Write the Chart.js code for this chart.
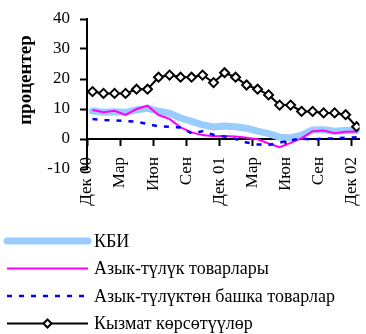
<!DOCTYPE html>
<html>
<head>
<meta charset="utf-8">
<script src="https://cdn.jsdelivr.net/npm/chart.js@4/dist/chart.umd.min.js"></script>
<style>
  html, body { margin: 0; padding: 0; overflow: hidden; background: #fff; }
  #wrap { position: relative; width: 366px; height: 334px; }
</style>
</head>
<body>
<div id="wrap"><canvas id="c" width="366" height="334"></canvas></div>
<script>
// Months, Dec 2000 .. Dec 2002
const months = ['Дек 00', 'Янв 01', 'Фев 01', 'Мар 01', 'Апр 01', 'Май 01', 'Июн 01', 'Июл 01', 'Авг 01',
  'Сен 01', 'Окт 01', 'Ноя 01', 'Дек 01', 'Янв 02', 'Фев 02', 'Мар 02', 'Апр 02', 'Май 02', 'Июн 02',
  'Июл 02', 'Авг 02', 'Сен 02', 'Окт 02', 'Ноя 02', 'Дек 02'];

// Axis labels shown every third month
const tickLabels = ['Дек 00', 'Мар', 'Июн', 'Сен', 'Дек 01', 'Мар', 'Июн', 'Сен', 'Дек 02'];

// Year-on-year change, percent
const cpi      = [9.3, 8.9, 9.1, 8.9, 9.7, 10.2, 9.3, 8.6, 7.0, 5.9, 4.7, 4.0, 4.3, 4.1, 3.6, 2.6, 1.8, 0.6, 0.4, 1.3, 3.0, 3.1, 2.6, 2.8, 2.8];
const food     = [9.7, 8.9, 9.4, 8.0, 10.0, 11.1, 8.0, 6.7, 3.9, 2.2, 1.3, 0.9, 1.0, 0.8, 0.4, -0.1, -1.5, -2.7, -1.3, 0.3, 2.6, 2.8, 1.9, 2.4, 2.5];
const nonFood  = [6.7, 6.3, 6.2, 6.0, 5.8, 5.0, 4.2, 4.1, 3.8, 1.9, 2.6, 1.4, 0.8, 0.0, -1.2, -1.8, -2.0, -1.2, -0.4, 0.2, -0.2, 0.2, 0.2, 0.4, 0.6];
const services = [15.8, 15.2, 15.2, 15.2, 16.6, 16.6, 20.6, 21.3, 20.6, 20.6, 21.3, 18.8, 22.1, 20.6, 18.0, 16.6, 14.7, 11.3, 11.3, 9.2, 9.2, 8.7, 8.7, 8.1, 4.1];

const seriesNames = ['КБИ', 'Азык-түлүк товарлары', 'Азык-түлүктөн башка товарлар', 'Кызмат көрсөтүүлөр'];
const yTitle = 'процентер';

const FONT = 'Liberation Serif, Times New Roman, serif';
const toPoints = arr => arr.map((v, i) => ({ x: i, y: v }));

// Y-axis title
const yTitlePlugin = {
  id: 'yTitle',
  afterDraw(chart) {
    const ctx = chart.ctx;
    ctx.save();
    ctx.translate(26, 80);
    ctx.rotate(-Math.PI / 2);
    ctx.font = 'bold 19px ' + FONT;
    ctx.fillStyle = '#000';
    ctx.textAlign = 'center';
    ctx.textBaseline = 'middle';
    ctx.fillText(yTitle, 0, 0);
    ctx.restore();
  }
};

// Legend stacked under the plot, one row per series
const legendPlugin = {
  id: 'stackLegend',
  afterDraw(chart) {
    const ctx = chart.ctx;
    const x0 = 7, x1 = 88, textX = 94, rowY0 = 241, gap = 27.5;
    chart.data.datasets.forEach((ds, i) => {
      const y = rowY0 + gap * i;
      ctx.save();
      ctx.strokeStyle = ds.borderColor;
      ctx.lineWidth = ds.borderWidth;
      ctx.lineCap = ds.borderCapStyle || 'butt';
      ctx.setLineDash(ds.borderDash || []);
      ctx.beginPath();
      ctx.moveTo(x0, y);
      ctx.lineTo(x1, y);
      ctx.stroke();
      ctx.setLineDash([]);
      if (ds.pointStyle === 'rectRot' && ds.pointRadius > 0) {
        const r = 4, cx = (x0 + x1) / 2;
        ctx.fillStyle = ds.pointBackgroundColor;
        ctx.strokeStyle = ds.pointBorderColor;
        ctx.lineWidth = ds.pointBorderWidth;
        ctx.beginPath();
        ctx.moveTo(cx - r, y); ctx.lineTo(cx, y - r); ctx.lineTo(cx + r, y); ctx.lineTo(cx, y + r);
        ctx.closePath();
        ctx.fill();
        ctx.stroke();
      }
      ctx.fillStyle = '#000';
      ctx.font = '18px ' + FONT;
      ctx.textAlign = 'left';
      ctx.textBaseline = 'middle';
      ctx.fillText(ds.label, textX, y + 1);
      ctx.restore();
    });
  }
};

new Chart(document.getElementById('c'), {
  type: 'line',
  data: {
    datasets: [
      {
        label: seriesNames[0], data: toPoints(cpi), order: 4,
        borderColor: '#99ccff', borderWidth: 7, borderCapStyle: 'round', borderJoinStyle: 'round',
        pointRadius: 0, tension: 0
      },
      {
        label: seriesNames[1], data: toPoints(food), order: 3,
        borderColor: '#ff00ff', borderWidth: 2, pointRadius: 0, tension: 0
      },
      {
        label: seriesNames[2], data: toPoints(nonFood), order: 2,
        borderColor: '#0000ff', borderWidth: 2.5, borderDash: [5, 7], pointRadius: 0, tension: 0
      },
      {
        label: seriesNames[3], data: toPoints(services), order: 1,
        borderColor: '#000', borderWidth: 2, tension: 0,
        pointStyle: 'rectRot', pointRadius: 4.5, pointBorderWidth: 2,
        pointBackgroundColor: '#fff', pointBorderColor: '#000'
      }
    ]
  },
  options: {
    responsive: false,
    animation: false,
    devicePixelRatio: 1,
    layout: { padding: { top: 19, bottom: 165, left: 0, right: 0 } },
    plugins: { legend: { display: false }, tooltip: { enabled: false } },
    scales: {
      x: {
        type: 'linear',
        position: { y: 0 },
        min: -0.5,
        max: 24.26,
        bounds: 'data',
        afterBuildTicks: s => { s.ticks = tickLabels.map((_, k) => ({ value: 3 * k - 0.5 })); },
        afterFit: s => { s.paddingLeft = 0; s.paddingRight = 0; },
        ticks: {
          autoSkip: false, minRotation: 90, maxRotation: 90, padding: 12, color: '#000',
          font: { family: FONT, size: 17 },
          callback: (v, i) => tickLabels[i]
        },
        grid: { drawOnChartArea: false, drawTicks: true, tickLength: 6, tickColor: '#000', tickWidth: 2 },
        border: { color: '#000', width: 2 }
      },
      y: {
        position: 'left',
        min: -10,
        max: 40,
        afterFit: s => { s.width = 87; s.paddingTop = 0; s.paddingBottom = 0; },
        ticks: { stepSize: 10, padding: 10, color: '#000', font: { family: FONT, size: 17 } },
        grid: { drawOnChartArea: false, tickLength: 7, tickColor: '#000', tickWidth: 2 },
        border: { color: '#000', width: 2 }
      }
    }
  },
  plugins: [yTitlePlugin, legendPlugin]
});
</script>
</body>
</html>
